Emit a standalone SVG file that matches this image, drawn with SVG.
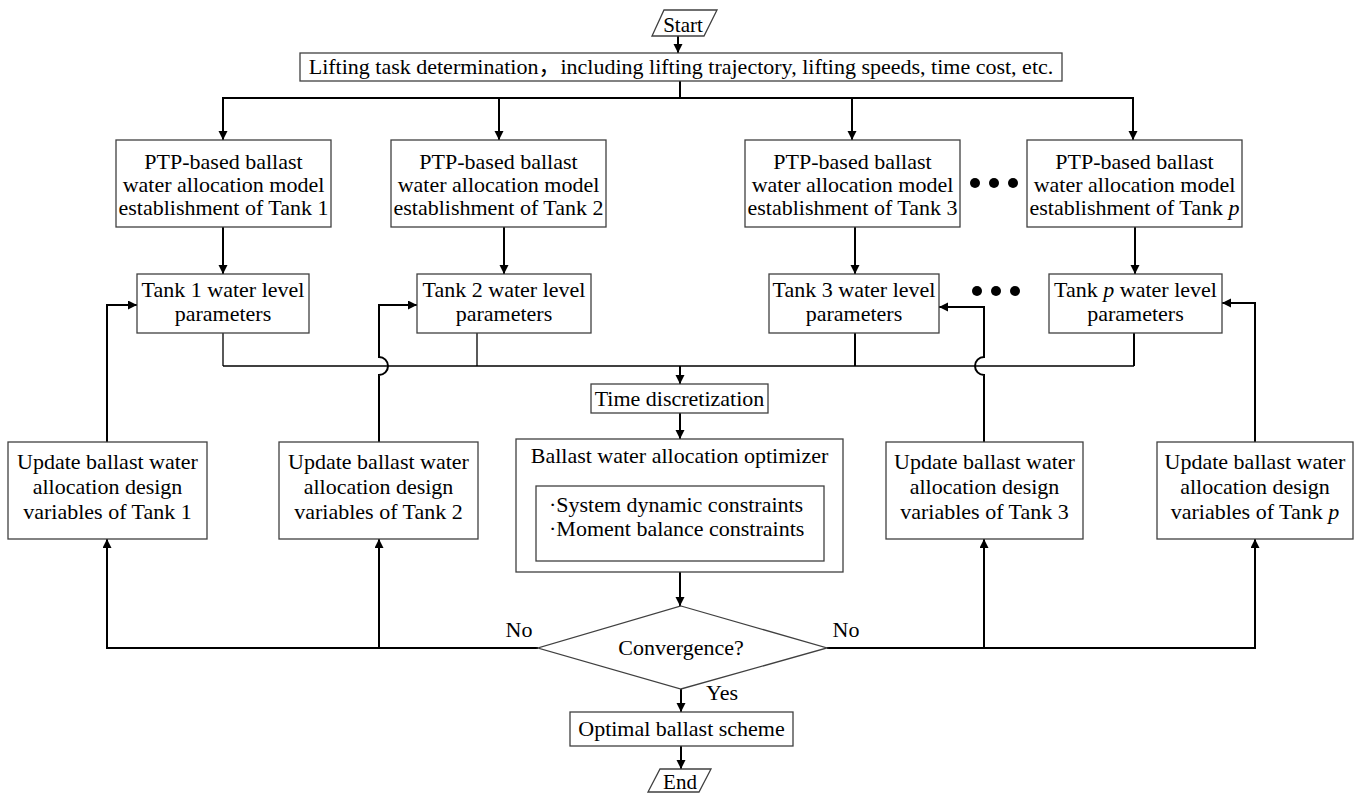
<svg xmlns="http://www.w3.org/2000/svg" width="1360" height="794" viewBox="0 0 1360 794">
<defs>
<marker id="ah" markerUnits="userSpaceOnUse" markerWidth="10" markerHeight="10" refX="9" refY="4.5" orient="auto">
<path d="M0,0 L9,4.5 L0,9 z" fill="#000"/>
</marker>
<style>
.b{fill:#fff;stroke:#404040;stroke-width:1.3}
.t{font-family:"Liberation Serif","Times New Roman","Noto Sans CJK SC",serif;font-size:22px;fill:#000;text-anchor:middle}
.s{font-size:21px}
.l{text-anchor:start}
.c{fill:none;stroke:#000;stroke-width:2}
.a{marker-end:url(#ah)}
.thin{stroke-width:1.3}
.m{stroke-width:1.6}
.i{font-style:italic}
</style>
</defs>
<rect width="1360" height="794" fill="#fff"/>

<g id="connectors">
<line class="c a" x1="678" y1="36" x2="678" y2="53"/>
<line class="c" x1="680" y1="81" x2="680" y2="98"/>
<line class="c" x1="222" y1="98" x2="1134" y2="98"/>
<line class="c a" x1="223" y1="98" x2="223" y2="140"/>
<line class="c a" x1="499" y1="98" x2="499" y2="140"/>
<line class="c a" x1="852" y1="98" x2="852" y2="140"/>
<line class="c a" x1="1133" y1="98" x2="1133" y2="140"/>
<line class="c a" x1="223" y1="227" x2="223" y2="274"/>
<line class="c a" x1="504" y1="227" x2="504" y2="274"/>
<line class="c a" x1="855" y1="227" x2="855" y2="274"/>
<line class="c a" x1="1135" y1="227" x2="1135" y2="274"/>
<line class="c thin" x1="223" y1="333" x2="223" y2="366"/>
<line class="c thin" x1="477" y1="333" x2="477" y2="366"/>
<line class="c" x1="855" y1="333" x2="855" y2="366"/>
<line class="c" x1="1134" y1="333" x2="1134" y2="366"/>
<line class="c m" x1="223" y1="366" x2="1134" y2="366"/>
<line class="c a" x1="680" y1="366" x2="680" y2="384"/>
<line class="c a" x1="680" y1="413" x2="680" y2="439"/>
<line class="c a" x1="680" y1="572" x2="680" y2="606"/>
<line class="c a" x1="681" y1="689" x2="681" y2="712"/>
<line class="c a" x1="681" y1="746" x2="681" y2="769"/>
<path class="c a" d="M538,648 H107 V539"/>
<path class="c a" d="M379,648 V539"/>
<path class="c a" d="M827,648 H1255 V539"/>
<path class="c a" d="M984,648 V539"/>
<path class="c a" d="M107,442 V305 H137"/>
<path class="c a" d="M379,442 V375 A9,9 0 0 0 379,357 V305 H417"/>
<path class="c a" d="M984,442 V375 A9,9 0 0 1 984,357 V307 H939"/>
<path class="c a" d="M1255,442 V303 H1222"/>
</g>

<g id="start">
<polygon class="b" points="664,10 717,10 704,36 652,36"/>
<text class="t s" x="683" y="32">Start</text>
</g>

<g id="lifting">
<rect class="b" x="300" y="53" width="762" height="28"/>
<text class="t" x="681" y="74">Lifting task determination，including lifting trajectory, lifting speeds, time cost, etc.</text>
</g>

<g id="ptp1">
<rect class="b" x="116" y="140" width="215" height="87"/>
<text class="t" x="223.5" y="169">PTP-based ballast</text>
<text class="t" x="223.5" y="192">water allocation model</text>
<text class="t" x="223.5" y="215">establishment of Tank 1</text>
</g>
<g id="ptp2">
<rect class="b" x="391" y="140" width="215" height="87"/>
<text class="t" x="498.5" y="169">PTP-based ballast</text>
<text class="t" x="498.5" y="192">water allocation model</text>
<text class="t" x="498.5" y="215">establishment of Tank 2</text>
</g>
<g id="ptp3">
<rect class="b" x="745" y="140" width="215" height="87"/>
<text class="t" x="852.5" y="169">PTP-based ballast</text>
<text class="t" x="852.5" y="192">water allocation model</text>
<text class="t" x="852.5" y="215">establishment of Tank 3</text>
</g>
<g id="ptpp">
<rect class="b" x="1027" y="140" width="215" height="87"/>
<text class="t" x="1134.5" y="169">PTP-based ballast</text>
<text class="t" x="1134.5" y="192">water allocation model</text>
<text class="t" x="1134.5" y="215">establishment of Tank <tspan class="i">p</tspan></text>
</g>

<g id="dots1">
<circle cx="975" cy="183" r="5"/><circle cx="994" cy="183" r="5"/><circle cx="1013" cy="183" r="5"/>
</g>
<g id="dots2">
<circle cx="977" cy="291" r="5"/><circle cx="996" cy="291" r="5"/><circle cx="1015" cy="291" r="5"/>
</g>

<g id="wl1">
<rect class="b" x="137" y="274" width="172" height="59"/>
<text class="t" x="223" y="297">Tank 1 water level</text>
<text class="t" x="223" y="321">parameters</text>
</g>
<g id="wl2">
<rect class="b" x="417" y="274" width="174" height="59"/>
<text class="t" x="504" y="297">Tank 2 water level</text>
<text class="t" x="504" y="321">parameters</text>
</g>
<g id="wl3">
<rect class="b" x="769" y="274" width="170" height="59"/>
<text class="t" x="854" y="297">Tank 3 water level</text>
<text class="t" x="854" y="321">parameters</text>
</g>
<g id="wlp">
<rect class="b" x="1049" y="274" width="173" height="59"/>
<text class="t" x="1135.5" y="297">Tank <tspan class="i">p</tspan> water level</text>
<text class="t" x="1135.5" y="321">parameters</text>
</g>

<g id="time">
<rect class="b" x="591" y="384" width="177" height="29"/>
<text class="t" x="679.5" y="406">Time discretization</text>
</g>

<g id="optimizer">
<rect class="b" x="516" y="439" width="327" height="133"/>
<text class="t" x="679.5" y="463">Ballast water allocation optimizer</text>
<rect class="b" x="536" y="486" width="288" height="75"/>
<text class="t l" x="549" y="512">·System dynamic constraints</text>
<text class="t l" x="549" y="536">·Moment balance constraints</text>
</g>

<g id="upd1">
<rect class="b" x="8" y="442" width="199" height="97"/>
<text class="t" x="107.5" y="469">Update ballast water</text>
<text class="t" x="107.5" y="494">allocation design</text>
<text class="t" x="107.5" y="519">variables of Tank 1</text>
</g>
<g id="upd2">
<rect class="b" x="279" y="442" width="199" height="97"/>
<text class="t" x="378.5" y="469">Update ballast water</text>
<text class="t" x="378.5" y="494">allocation design</text>
<text class="t" x="378.5" y="519">variables of Tank 2</text>
</g>
<g id="upd3">
<rect class="b" x="886" y="442" width="197" height="97"/>
<text class="t" x="984.5" y="469">Update ballast water</text>
<text class="t" x="984.5" y="494">allocation design</text>
<text class="t" x="984.5" y="519">variables of Tank 3</text>
</g>
<g id="updp">
<rect class="b" x="1157" y="442" width="196" height="97"/>
<text class="t" x="1255" y="469">Update ballast water</text>
<text class="t" x="1255" y="494">allocation design</text>
<text class="t" x="1255" y="519">variables of Tank <tspan class="i">p</tspan></text>
</g>

<g id="convergence">
<polygon class="b" points="681,606 827,648 681,689 538,648"/>
<text class="t" x="681" y="655">Convergence?</text>
</g>
<g id="labels">
<text class="t" x="519" y="637">No</text>
<text class="t" x="846" y="637">No</text>
<text class="t" x="722" y="700">Yes</text>
</g>

<g id="optimal">
<rect class="b" x="570" y="712" width="223" height="34"/>
<text class="t" x="681.5" y="736">Optimal ballast scheme</text>
</g>

<g id="end">
<polygon class="b" points="660,769 711,769 699,792 648,792"/>
<text class="t s" x="680" y="789">End</text>
</g>
</svg>
